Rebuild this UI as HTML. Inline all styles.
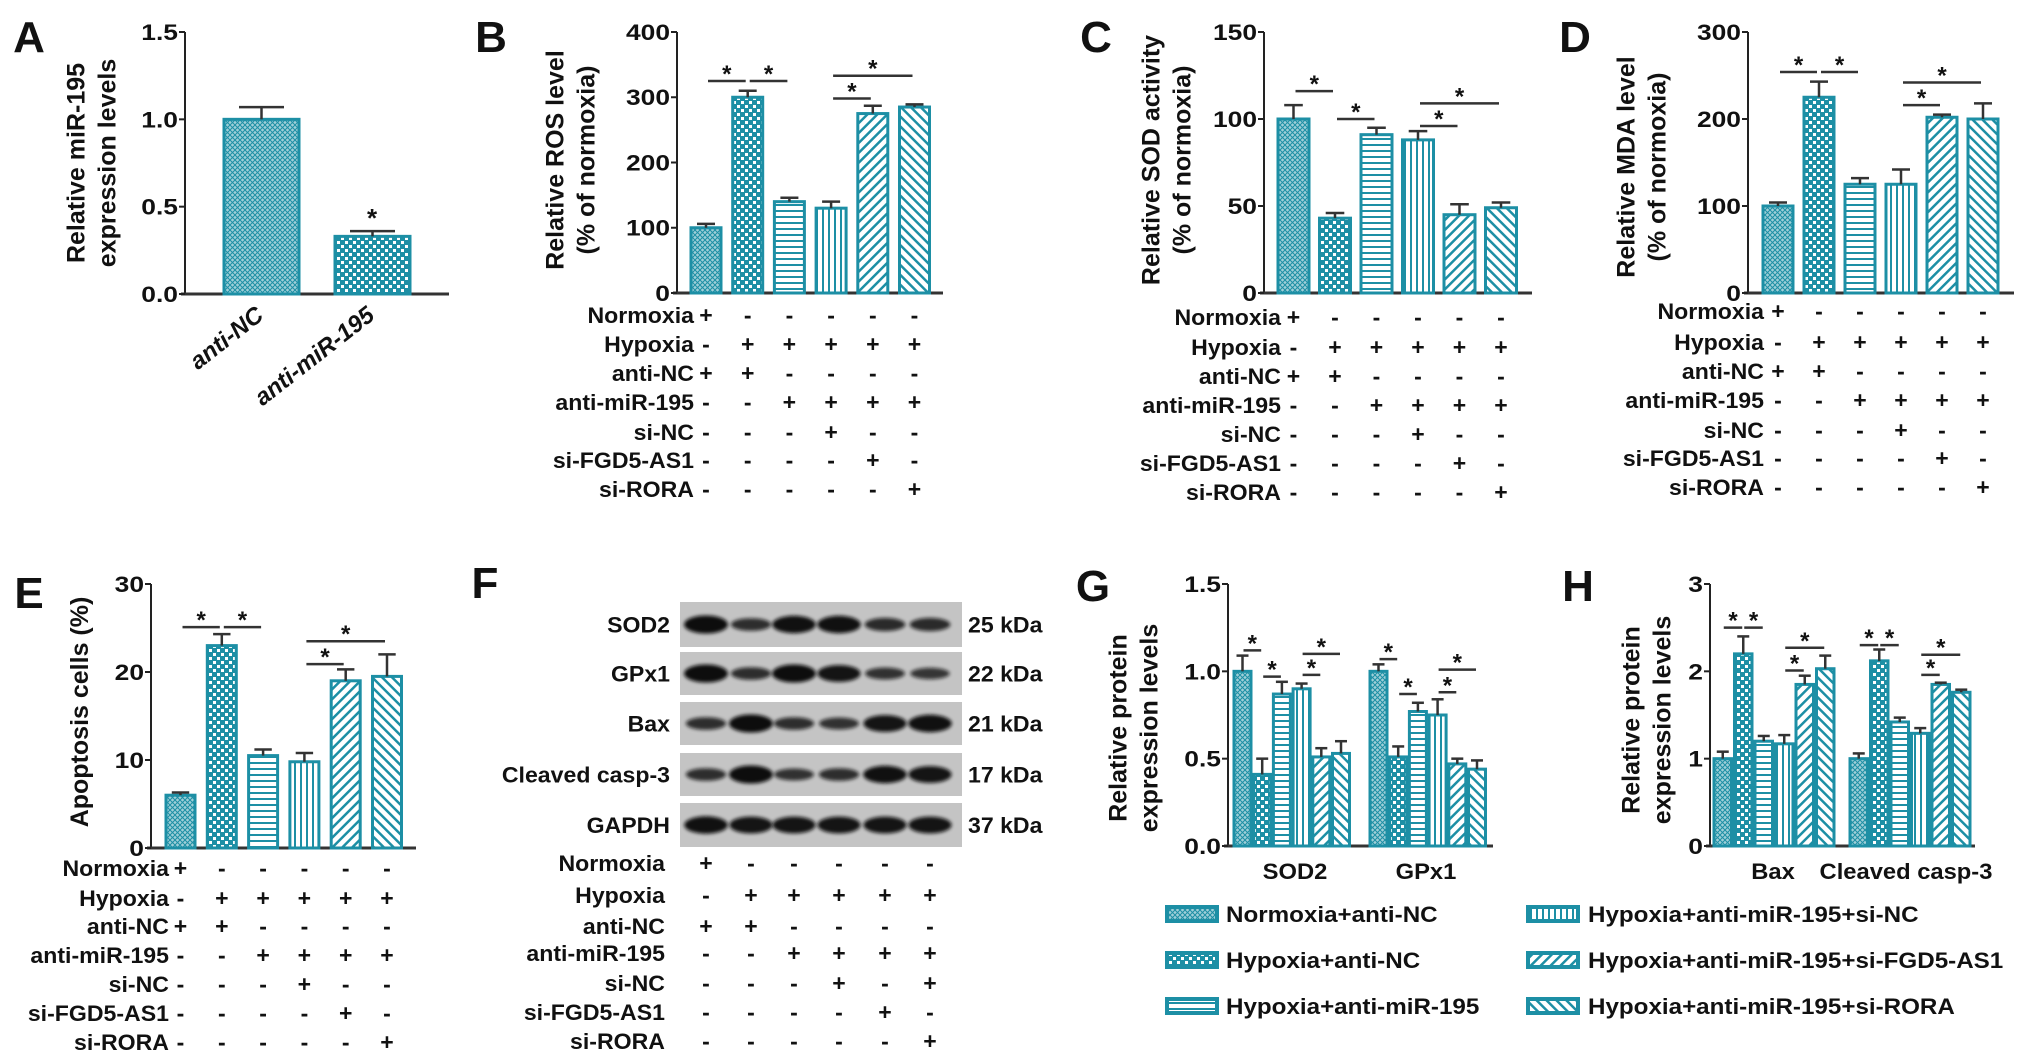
<!DOCTYPE html>
<html><head><meta charset="utf-8">
<style>
html,body{margin:0;padding:0;background:#fff;overflow:hidden;}
svg{display:block;font-family:"Liberation Sans",Arial,sans-serif;font-weight:bold;}
</style></head>
<body>
<svg id="fig" width="2031" height="1062" viewBox="0 0 2031 1062" xmlns="http://www.w3.org/2000/svg">
<defs>
 <pattern id="p0" width="5" height="5" patternUnits="userSpaceOnUse"><rect width="5" height="5" fill="#9fcfd8"/><path d="M0 0L5 5M5 0L0 5" stroke="#1d8fa5" stroke-width="1"/></pattern>
 <pattern id="p1" width="8" height="8" patternUnits="userSpaceOnUse"><rect width="8" height="8" fill="#1d8fa5"/><rect x="1" y="1" width="3" height="3" fill="#fff"/><rect x="5" y="5" width="3" height="3" fill="#fff"/></pattern>
 <pattern id="p2" width="6" height="6" patternUnits="userSpaceOnUse"><rect width="6" height="6" fill="#fff"/><rect y="0" width="6" height="2" fill="#1d8fa5"/></pattern>
 <pattern id="p3" width="6" height="6" patternUnits="userSpaceOnUse"><rect width="6" height="6" fill="#fff"/><rect x="0" width="2" height="6" fill="#1d8fa5"/></pattern>
 <pattern id="p4" width="7" height="7" patternUnits="userSpaceOnUse" patternTransform="rotate(45)"><rect width="7" height="7" fill="#fff"/><rect width="2.5" height="7" fill="#1d8fa5"/></pattern>
 <pattern id="p5" width="7" height="7" patternUnits="userSpaceOnUse" patternTransform="rotate(-45)"><rect width="7" height="7" fill="#fff"/><rect width="2.5" height="7" fill="#1d8fa5"/></pattern>
 <filter id="blur" x="-20%" y="-50%" width="140%" height="200%"><feGaussianBlur stdDeviation="1.8"/></filter>
</defs>
</svg>
<script>
// ---------- data ----------
const aCats = ['anti-NC','anti-miR-195'];
const aVals = [1.0, 0.33];
const aErr  = [0.07, 0.03];
const aTicks = ['0.0','0.5','1.0','1.5'];

const bVals = [100, 300, 140, 130, 275, 285];
const bErr  = [6, 10, 6, 10, 12, 4];
const bTicks = ['0','100','200','300','400'];
const bSig = [[0,1,325],[1,2,325],[3,5,333],[3,4,298]];

const cVals = [100, 43, 91, 88, 45, 49];
const cErr  = [8, 3, 4, 5, 6, 3];
const cTicks = ['0','50','100','150'];
const cSig = [[0,1,116],[1,2,100],[3,5,109],[3,4,96]];

const dVals = [100, 225, 125, 125, 202, 200];
const dErr  = [4, 18, 7, 17, 3, 18];
const dTicks = ['0','100','200','300'];
const dSig = [[0,1,254],[1,2,254],[3,5,242],[3,4,216]];

const eVals = [6, 23, 10.5, 9.8, 19, 19.5];
const eErr  = [0.3, 1.3, 0.7, 1.0, 1.3, 2.5];
const eTicks = ['0','10','20','30'];
const eSig = [[0,1,25.1],[1,2,25.1],[3,5,23.5],[3,4,20.9]];

const gCats = ['SOD2','GPx1'];
const gVals = [[1.0,0.41,0.87,0.90,0.51,0.53],[1.0,0.51,0.77,0.75,0.47,0.44]];
const gErr  = [[0.09,0.09,0.07,0.03,0.05,0.07],[0.04,0.06,0.05,0.09,0.03,0.05]];
const gTicks = ['0.0','0.5','1.0','1.5'];
const gSig = [[[0,1,1.12],[1,2,0.97],[3,5,1.10],[3,4,0.98]],[[0,1,1.07],[1,2,0.87],[3,5,1.01],[3,4,0.88]]];

const hCats = ['Bax','Cleaved casp-3'];
const hVals = [[1.0,2.2,1.2,1.17,1.85,2.03],[1.0,2.12,1.42,1.29,1.85,1.76]];
const hErr  = [[0.08,0.2,0.06,0.1,0.1,0.15],[0.06,0.13,0.05,0.06,0.02,0.03]];
const hTicks = ['0','1','2','3'];
const hSig = [[[0,1,2.5],[1,2,2.5],[3,5,2.27],[3,4,2.01]],[[0,1,2.3],[1,2,2.3],[3,5,2.19],[3,4,1.96]]];

const tableRows = ['Normoxia','Hypoxia','anti-NC','anti-miR-195','si-NC','si-FGD5-AS1','si-RORA'];
const tableMarks = ['+-----','-+++++','++----','--++++','---+--','----+-','-----+'];
const fMarks = ['+-----','-+++++','++----','--++++','---+-+','----+-','-----+'];

const blotNames = ['SOD2','GPx1','Bax','Cleaved casp-3','GAPDH'];
const blotKda = ['25 kDa','22 kDa','21 kDa','17 kDa','37 kDa'];
const blotInt = [[1.0,0.55,0.95,0.95,0.6,0.6],[1.0,0.55,1.0,0.9,0.5,0.45],[0.55,1.0,0.55,0.5,0.9,0.95],[0.55,1.0,0.5,0.55,0.95,0.9],[0.95,0.9,0.9,0.9,0.9,0.9]];

const legendLabels = ['Normoxia+anti-NC','Hypoxia+anti-NC','Hypoxia+anti-miR-195','Hypoxia+anti-miR-195+si-NC','Hypoxia+anti-miR-195+si-FGD5-AS1','Hypoxia+anti-miR-195+si-RORA'];

// ---------- helpers ----------
const svg = document.getElementById('fig');
const NS = 'http://www.w3.org/2000/svg';
const TEAL = '#1d8fa5';
function mk(tag, at, parent){const e=document.createElementNS(NS,tag);for(const k in at)e.setAttribute(k,at[k]);(parent||svg).appendChild(e);return e;}
function txt(s, x, y, size, anchor, parent, extra){const t=mk('text',Object.assign({x:x,y:y,'font-size':size,'text-anchor':anchor||'start',fill:'#111'},extra||{}),parent);t.textContent=s;return t;}
function sx(x,k){return `translate(${x},0) scale(${k},1) translate(${-x},0)`;}

function panelLetter(ch,x,y){const t=txt(ch,x,y,44,'middle');

}

function yAxis(g, ax, y0, yTop, xEnd, ticks, title, tx, ty, name){
  const axis=mk('g',{},g);
  
  
  mk('line',{x1:ax,y1:y0,x2:ax,y2:yTop,stroke:'#222','stroke-width':2},axis);
  mk('line',{x1:ax-4,y1:y0,x2:xEnd,y2:y0,stroke:'#333','stroke-width':3},axis);
  ticks.forEach((t,i)=>{const y=y0+(yTop-y0)*i/(ticks.length-1);
    mk('line',{x1:ax-6,y1:y,x2:ax,y2:y,stroke:'#222','stroke-width':2},axis);
    txt(t,ax-7,y+8,22,'end',axis,{transform:sx(ax-7,1.2)});
  });
  const tt=mk('text',{transform:`translate(${tx},${ty}) rotate(-90)`,'font-size':25,'text-anchor':'middle',fill:'#111'},g);
  
  
  const off=-(title.length-1)*15.5;
  title.forEach((l,i)=>{const s=mk('tspan',{x:0,y:off+i*31+9},tt);s.textContent=l;});
}

function bar(g, x, w, yv, y0, pat, errPx, name, thick){
  const r=mk('rect',{x:x,y:yv,width:w,height:y0-yv,fill:'url(#'+pat+')',stroke:TEAL,'stroke-width':thick||3},g);
  
  
  const cx=x+w/2, cw=Math.max(6,w*0.3);
  mk('line',{x1:cx,y1:yv,x2:cx,y2:yv-errPx,stroke:'#333','stroke-width':2.5},g);
  mk('line',{x1:cx-cw,y1:yv-errPx,x2:cx+cw,y2:yv-errPx,stroke:'#333','stroke-width':2.5},g);
}

function sig(g, x1, x2, y){
  mk('line',{x1:x1,y1:y,x2:x2,y2:y,stroke:'#333','stroke-width':2.5},g);
  txt('*',(x1+x2)/2,y+1,24,'middle',g);
}

function table(g, centers, rows, labelX, marks, name){
  const t=mk('g',{},g);
  
  
  rows.forEach((y,r)=>{
    txt(tableRows[r],labelX,y+8,22,'end',t,{transform:sx(labelX,1.05)});
    marks[r].split('').forEach((m,c)=>{txt(m,centers[c],y+8,23,'middle',t);});
  });
}

function sixPanel(o){
  const g=mk('g',{});
  
  
  const max=parseFloat(o.ticks[o.ticks.length-1]);
  const Y=v=>o.y0-(o.y0-o.yTop)*v/max;
  yAxis(g,o.ax,o.y0,o.yTop,o.xEnd,o.ticks,o.title,o.tx,o.ty,o.name);
  const centers=[];
  o.vals.forEach((v,i)=>{const x=o.left+i*o.pitch;centers.push(x+o.w/2);
    bar(g,x,o.w,Y(v),o.y0,'p'+i,Y(0)-Y(o.err[i]),o.name+'-bar-'+(i+1));});
  o.sig.forEach(s=>{sig(g,centers[s[0]]+2,centers[s[1]]-2,Y(s[2]));});
  table(g,centers,o.rows,o.labelX,o.marks||tableMarks,o.name);
}

// ---------- Panel A ----------
panelLetter('A',29,52);
(function(){
  const g=mk('g',{});
  
  
  const ax=185,y0=294,yTop=32,max=1.5;
  const Y=v=>y0-(y0-yTop)*v/max;
  yAxis(g,ax,y0,yTop,449,aTicks,['Relative miR-195','expression levels'],91,163,'panel-a');
  const lefts=[224,335], pats=['p0','p1'];
  aVals.forEach((v,i)=>{bar(g,lefts[i],75,Y(v),y0,pats[i],Y(0)-Y(aErr[i]),'panel-a-bar-'+aCats[i]);
    const cx=lefts[i]+37;
    const t=txt(aCats[i],cx+4,318,24,'end',g,{transform:`rotate(-38 ${cx+4} 318)`,'font-style':'italic'});
    
    
  });
  txt('*',lefts[1]+37,Y(aVals[1]+aErr[1])-4,26,'middle',g);
})();

// ---------- B, C, D, E ----------
panelLetter('B',491,52);
sixPanel({name:'panel-b-chart',ax:677,y0:293,yTop:32,xEnd:943,ticks:bTicks,vals:bVals,err:bErr,sig:bSig,
  left:691,pitch:41.7,w:30,title:['Relative ROS level','(% of normoxia)'],tx:570,ty:160,
  rows:[315,344,373,402,432,460,489],labelX:694});
panelLetter('C',1096,52);
sixPanel({name:'panel-c-chart',ax:1264,y0:293,yTop:32,xEnd:1532,ticks:cTicks,vals:cVals,err:cErr,sig:cSig,
  left:1278,pitch:41.5,w:31,title:['Relative SOD activity','(% of normoxia)'],tx:1166,ty:160,
  rows:[317,347,376,405,434,463,492],labelX:1281});
panelLetter('D',1575,52);
sixPanel({name:'panel-d-chart',ax:1748,y0:293,yTop:32,xEnd:2014,ticks:dTicks,vals:dVals,err:dErr,sig:dSig,
  left:1763,pitch:41,w:30,title:['Relative MDA level','(% of normoxia)'],tx:1641,ty:167,
  rows:[311,342,371,400,430,458,487],labelX:1764});
panelLetter('E',29,608);
sixPanel({name:'panel-e-chart',ax:151,y0:848,yTop:584,xEnd:416,ticks:eTicks,vals:eVals,err:eErr,sig:eSig,
  left:166,pitch:41.3,w:29,title:['Apoptosis cells (%)'],tx:79,ty:712,
  rows:[868,898,926,955,984,1013,1042],labelX:169});

// ---------- Panel F (western blot) ----------
panelLetter('F',485,598);
(function(){
  const g=mk('g',{});
  
  
  const tops=[602,652,702,753,803], bots=[647,695,745,796,847];
  const lanes=[706,751,794,839,885,930];
  blotNames.forEach((n,r)=>{
    const strip=mk('g',{},g);
    
    
    mk('rect',{x:680,y:tops[r],width:282,height:bots[r]-tops[r],fill:'#c4c4c4'},strip);
    const cy=(tops[r]+bots[r])/2;
    blotInt[r].forEach((v,i)=>{mk('ellipse',{cx:lanes[i],cy:cy,rx:18+4*v,ry:3+6*v,fill:'#111',opacity:0.6+0.4*v,filter:'url(#blur)'},strip);});
    txt(n,670,cy+8,22,'end',g,{transform:sx(670,1.05)});
    txt(blotKda[r],968,cy+8,22,'start',g,{transform:sx(968,1.05)});
  });
  table(g,lanes,[863,895,926,953,983,1012,1041],665,fMarks,'panel-f');
})();

// ---------- grouped panels G, H ----------
function groupPanel(o){
  const g=mk('g',{});
  
  
  const max=parseFloat(o.ticks[o.ticks.length-1]);
  const Y=v=>o.y0-(o.y0-o.yTop)*v/max;
  yAxis(g,o.ax,o.y0,o.yTop,o.xEnd,o.ticks,o.title,o.tx,o.ty,o.name);
  o.cats.forEach((c,k)=>{
    const centers=[];
    o.vals[k].forEach((v,i)=>{const x=o.lefts[k]+i*o.pitch;centers.push(x+o.w/2);
      bar(g,x,o.w,Y(v),o.y0,'p'+i,Y(0)-Y(o.err[k][i]),o.name+'-'+c.toLowerCase().replace(/\s+/g,'-')+'-bar-'+(i+1),3);});
    o.sig[k].forEach(s=>{sig(g,centers[s[0]]+1,centers[s[1]]-1,Y(s[2]));});
    const lab=txt(c,o.labX[k],879,22,'middle',g,{transform:sx(o.labX[k],1.08)});
    
    
  });
}
panelLetter('G',1093,601);
groupPanel({name:'panel-g-chart',ax:1228,y0:846,yTop:584,xEnd:1493,ticks:gTicks,cats:gCats,vals:gVals,err:gErr,sig:gSig,
  lefts:[1234,1370],pitch:19.7,w:17,title:['Relative protein','expression levels'],tx:1133,ty:728,labX:[1295,1426]});
panelLetter('H',1578,601);
groupPanel({name:'panel-h-chart',ax:1710,y0:846,yTop:584,xEnd:1975,ticks:hTicks,cats:hCats,vals:hVals,err:hErr,sig:hSig,
  lefts:[1714,1850],pitch:20.5,w:17.5,title:['Relative protein','expression levels'],tx:1646,ty:720,labX:[1773,1906]});

// ---------- Legend ----------
(function(){
  const g=mk('g',{});
  
  
  const ys=[914,960,1006];
  legendLabels.forEach((l,i)=>{
    const col=Math.floor(i/3), row=i%3;
    const sxp=col?1526:1165, tx=col?1588:1226, y=ys[row];
    const e=mk('g',{},g);
    
    
    mk('rect',{x:sxp+2,y:y-7,width:50,height:14,fill:'url(#p'+i+')',stroke:TEAL,'stroke-width':4},e);
    txt(l,tx,y+8,22,'start',e,{transform:sx(tx,1.1)});
  });
})();
</script>
</body></html>
